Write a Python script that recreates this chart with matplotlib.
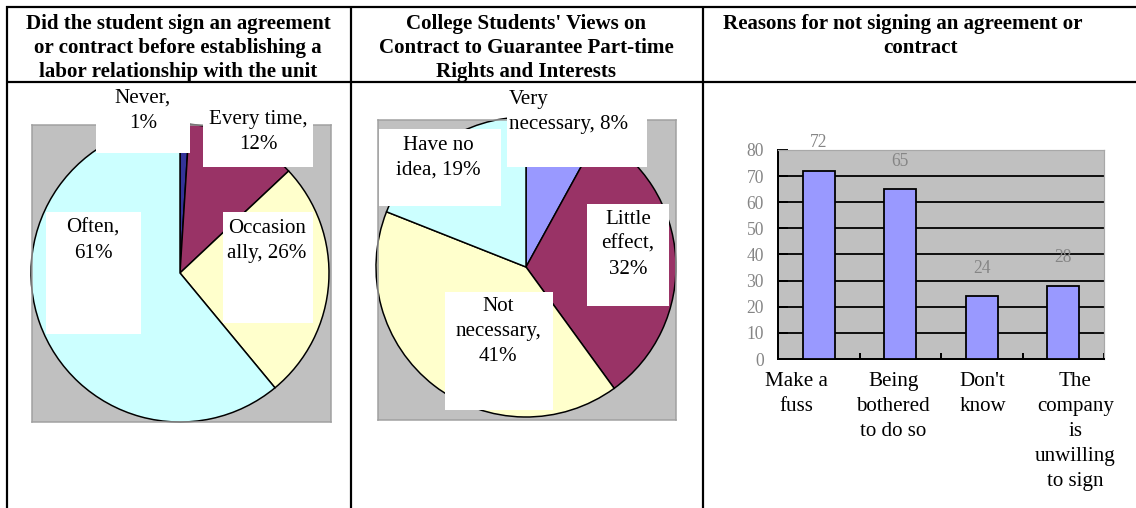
import matplotlib
matplotlib.use("Agg")
import matplotlib.pyplot as plt
from matplotlib.patches import Rectangle
from matplotlib.transforms import blended_transform_factory

# ---------------- data ----------------
header_titles = [
    "Did the student sign an agreement\nor contract before establishing a\nlabor relationship with the unit",
    "College Students' Views on\nContract to Guarantee Part-time\nRights and Interests",
    "Reasons for not signing an agreement or\ncontract",
]

pie1_categories = ["Never", "Every time", "Occasion\nally", "Often"]
pie1_values = [1, 12, 26, 61]
pie1_colors = ["#333399", "#993366", "#FFFFCC", "#CCFFFF"]
pie1_label_sep = ["\n", "\n", " ", "\n"]

pie2_categories = ["Very\nnecessary", "Little\neffect", "Not\nnecessary", "Have no\nidea"]
pie2_values = [8, 32, 41, 19]
pie2_colors = ["#9999FF", "#993366", "#FFFFCC", "#CCFFFF"]
pie2_label_sep = [" ", "\n", "\n", " "]

bar_categories = ["Make a\nfuss", "Being\nbothered\nto do so", "Don't\nknow",
                  "The\ncompany\nis\nunwilling\nto sign"]
bar_values = [72, 65, 24, 28]
bar_yticks = [0, 10, 20, 30, 40, 50, 60, 70, 80]

# ---------------- layout (pixels) ----------------
W, H, DPI = 1136, 508, 72
SERIF = "Liberation Serif"
FS = 21
STEP = 25

def frac(x0, y0, x1, y1):
    return [x0 / W, 1 - y1 / H, (x1 - x0) / W, (y1 - y0) / H]

fig = plt.figure(figsize=(W / DPI, H / DPI), dpi=DPI)
fig.patch.set_facecolor("white")

# overlay axes in pixel coordinates (y down)
ov = fig.add_axes([0, 0, 1, 1], zorder=10)
ov.set_xlim(0, W)
ov.set_ylim(H, 0)
ov.axis("off")
ov.patch.set_alpha(0)


def draw_lines(ax, x, y0, text, step=STEP, ha="center", transform=None, **kw):
    if transform is None:
        transform = ax.transData
    for i, line in enumerate(text.split("\n")):
        ax.text(x, y0 + i * step, line, ha=ha, va="baseline", family=SERIF,
                fontsize=FS, transform=transform, **kw)


# table grid
tlw = 2.2
ov.hlines([7, 82], 6, W, color="black", lw=tlw)
ov.vlines([7, 351, 703], 6, H, color="black", lw=tlw)

# headers
header_x = [[178, 178, 178], [526, 526, 526], [903, 920]]
for title, xs in zip(header_titles, header_x):
    for i, line in enumerate(title.split("\n")):
        ov.text(xs[i], 29 + i * 24, line, ha="center", va="baseline",
                family=SERIF, fontsize=21, fontweight="bold")


def pie_panel(rect, center, radius, values, colors, cats, seps, boxes):
    x0, y0, x1, y1 = rect
    ax = fig.add_axes(frac(x0, y0, x1, y1))
    ax.set_facecolor("#C0C0C0")
    ax.pie(values, colors=colors, startangle=90, counterclock=False,
           center=(center[0], H - center[1]), radius=radius, frame=True,
           wedgeprops=dict(edgecolor="black", linewidth=1.5))
    ax.set_aspect("auto")
    ax.set_xlim(x0, x1)
    ax.set_ylim(H - y1, H - y0)
    ax.set_xticks([])
    ax.set_yticks([])
    for s in ax.spines.values():
        s.set_color("#A0A0A0")
        s.set_linewidth(1.5)
    for cat, v, sep, (bx0, by0, bx1, by1, tx, ty, ha) in zip(cats, values, seps, boxes):
        ov.add_patch(Rectangle((bx0, by0), bx1 - bx0, by1 - by0, facecolor="white",
                               edgecolor="none"))
        draw_lines(ov, tx, ty, f"{cat},{sep}{v}%", ha=ha)


pie_panel((32, 125, 331, 422), (180, 273), 149, pie1_values, pie1_colors,
          pie1_categories, pie1_label_sep,
          [(96, 84, 190, 153, 143, 103, "center"),
           (203, 105, 313, 167, 258, 124, "center"),
           (223, 212, 313, 323, 267, 233, "center"),
           (46, 212, 141, 334, 93, 233, "center")])

pie_panel((378, 120, 676, 420), (526, 267), 150, pie2_values, pie2_colors,
          pie2_categories, pie2_label_sep,
          [(507, 84, 647, 167, 509, 104, "left"),
           (587, 204, 669, 306, 628, 224, "center"),
           (445, 292, 553, 410, 498, 311, "center"),
           (379, 129, 501, 206, 438, 150, "center")])

# ---------------- bar chart ----------------
ax = fig.add_axes(frac(778, 150, 1104, 359))
ax.set_facecolor("#C0C0C0")
x = list(range(len(bar_values)))
ax.bar(x, bar_values, width=0.39, color="#9999FF", edgecolor="black", linewidth=1.8,
       zorder=3)
ax.set_xlim(-0.5, len(bar_values) - 0.5)
ax.set_ylim(0, 80)
ax.set_yticks(bar_yticks)
ax.set_yticklabels([str(t) for t in bar_yticks], family=SERIF, fontsize=17.5,
                   color="#858585")
ax.yaxis.grid(True, color="black", linewidth=1.8)
ax.set_axisbelow(True)
ax.tick_params(axis="y", direction="in", length=10, width=2, pad=14)
ax.set_xticks(x)
ax.set_xticklabels([])
ax.tick_params(axis="x", which="major", length=0)
ax.set_xticks([i + 0.5 for i in x], minor=True)
ax.tick_params(axis="x", which="minor", direction="in", length=6, width=2)
for side in ("left", "bottom"):
    ax.spines[side].set_color("black")
    ax.spines[side].set_linewidth(2)
for side in ("top", "right"):
    ax.spines[side].set_color("#A8A8A8")
    ax.spines[side].set_linewidth(1.2)

for i, v in enumerate(bar_values):
    ax.annotate(str(v), (i, v), xytext=(0, 28), textcoords="offset pixels",
                ha="center", va="center", family=SERIF, fontsize=17.5,
                color="#858585")

# category labels below the bars
label_dx = [-0.27, -0.086, 0.012, 0.147]
btrans = blended_transform_factory(ax.transData, ov.transData)
for i, (cat, dx) in enumerate(zip(bar_categories, label_dx)):
    draw_lines(ov, i + dx, 386, cat, transform=btrans)

fig.savefig("out.png", dpi=DPI, facecolor="white")
